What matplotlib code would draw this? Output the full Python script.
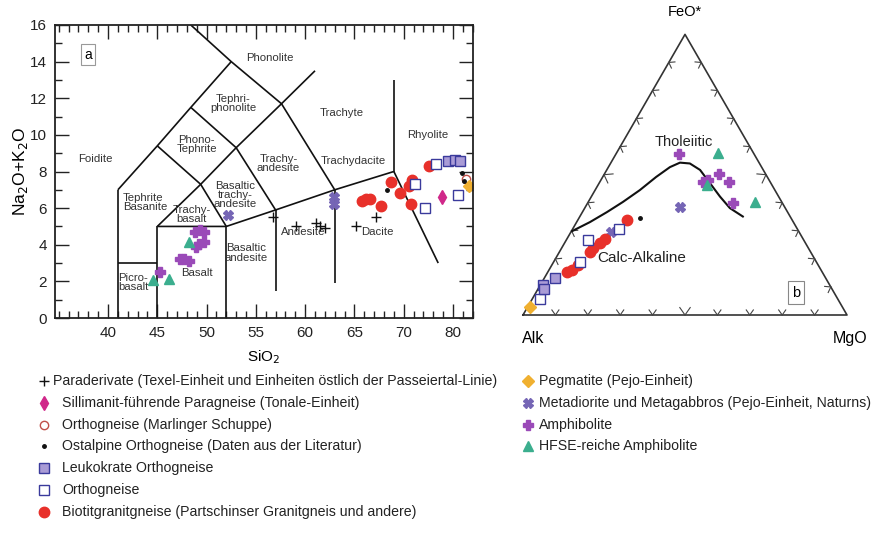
import numpy as np
import matplotlib.pyplot as plt
from matplotlib.ticker import MultipleLocator

plt.rcParams['font.family'] = ['Liberation Sans', 'DejaVu Sans']

# ---------------- TAS diagram data (SiO2, Na2O+K2O) ----------------
para_sio2 = [56.7, 59.1, 61.1, 61.5, 62.0, 65.2, 67.2]
para_alk = [5.5, 5.0, 5.2, 5.0, 4.9, 5.0, 5.5]

sill_sio2 = [73.9]
sill_alk = [6.6]

marl_sio2 = [76.3]
marl_alk = [7.6]

ostalp_sio2 = [68.3, 75.9, 76.1]
ostalp_alk = [7.0, 7.9, 7.5]

leuko_sio2 = [74.5, 75.2, 75.7]
leuko_alk = [8.6, 8.65, 8.6]

ortho_sio2 = [71.1, 72.2, 73.3, 75.5]
ortho_alk = [7.3, 6.0, 8.4, 6.7]

biot_sio2 = [65.8, 66.2, 66.6, 67.7, 68.7, 69.6, 70.5, 70.8, 70.7, 72.6]
biot_alk = [6.4, 6.5, 6.5, 6.1, 7.45, 6.8, 7.2, 7.55, 6.2, 8.3]

peg_sio2 = [76.6]
peg_alk = [7.2]

meta_sio2 = [52.2, 62.9, 62.9]
meta_alk = [5.6, 6.6, 6.25]

amph_sio2 = [48.8, 49.3, 49.7, 48.9, 49.2, 49.7, 47.3, 47.7, 48.2, 45.3]
amph_alk = [4.7, 4.8, 4.7, 3.9, 4.05, 4.15, 3.2, 3.2, 3.1, 2.5]

hfse_sio2 = [48.2, 44.6, 46.2]
hfse_alk = [4.15, 2.1, 2.15]

# TAS field boundaries (Le Bas et al.)
tas_lines = [
    [(41, 0), (41, 7)],
    [(41, 3), (45, 3)],
    [(45, 0), (45, 5)],
    [(41, 7), (45, 9.4), (48.4, 11.5), (52.5, 14), (48.4, 16)],
    [(45, 9.4), (49.4, 7.3), (52, 5)],
    [(48.4, 11.5), (53, 9.3), (57, 5.9)],
    [(52.5, 14), (57.6, 11.7), (63, 7)],
    [(57.6, 11.7), (61, 13.5)],
    [(45, 5), (52, 5), (57, 5.9), (63, 7), (69, 8)],
    [(45, 5), (49.4, 7.3), (53, 9.3), (57.6, 11.7)],
    [(52, 0), (52, 5)],
    [(57, 1.5), (57, 5.9)],
    [(63, 1.9), (63, 7)],
    [(69, 8), (69, 13)],
    [(69, 8), (73.5, 3.0)],
]

tas_labels = [
    ('Phonolite', 56.4, 14.2, 'center'),
    ('Tephri-\nphonolite', 52.7, 11.7, 'center'),
    ('Phono-\nTephrite', 49.0, 9.5, 'center'),
    ('Foidite', 38.7, 8.7, 'center'),
    ('Tephrite\nBasanite', 41.5, 6.3, 'left'),
    ('Trachy-\nbasalt', 48.5, 5.65, 'center'),
    ('Basaltic\ntrachy-\nandesite', 52.9, 6.7, 'center'),
    ('Basaltic\nandesite', 54.0, 3.55, 'center'),
    ('Basalt', 49.0, 2.45, 'center'),
    ('Picro-\nbasalt', 41.0, 1.95, 'left'),
    ('Trachy-\nandesite', 57.3, 8.45, 'center'),
    ('Trachyte', 63.7, 11.2, 'center'),
    ('Trachydacite', 64.9, 8.6, 'center'),
    ('Rhyolite', 72.4, 10.0, 'center'),
    ('Andesite', 59.8, 4.7, 'center'),
    ('Dacite', 67.3, 4.7, 'center'),
]

x_ticks = [40, 45, 50, 55, 60, 65, 70, 75]
x_ticklabels = ['40', '45', '50', '55', '60', '65', '70', '80']

# ---------------- AFM diagram data (FeO*, MgO in %, Alk = rest) ----------------
amph_F = [57.4, 47.5, 48.1, 50.3, 47.5, 39.8]
amph_M = [19.3, 31.9, 33.1, 35.2, 39.9, 44.8]
hfse_F = [57.6, 46.3, 40.4]
hfse_M = [31.5, 33.6, 51.4]
meta_F = [38.6, 29.6]
meta_M = [29.2, 12.4]
biot_F = [33.9, 27.0, 25.8, 23.8, 22.6, 17.8, 16.0, 15.4]
biot_M = [15.1, 11.8, 10.9, 9.8, 9.4, 8.2, 7.0, 6.0]
ortho_F = [30.7, 26.7, 19.0, 5.7]
ortho_M = [14.3, 6.8, 8.1, 2.4]
leuko_F = [13.1, 10.7, 9.2]
leuko_M = [3.3, 0.8, 2.0]
peg_F = [3.0]
peg_M = [0.6]
ostalp_F = [34.5]
ostalp_M = [18.9]

# Tholeiitic / calc-alkaline boundary (Irvine & Baragar)
curve_F = [29.9, 33.1, 36.7, 40.3, 44.5, 49.2, 52.7, 54.3, 54.0, 51.7, 47.0, 42.2, 38.1, 35.1]
curve_M = [0.2, 4.1, 7.6, 10.7, 13.8, 16.5, 19.0, 21.3, 24.5, 28.8, 34.2, 39.7, 44.8, 50.3]

# ---------------- styles ----------------
C_RED = '#e8302a'
C_AMPH = '#9a4ab8'
C_HFSE = '#3bae8e'
C_META = '#7565b5'
C_SQ = '#3a3a9c'
C_LEUKO = '#a99bd6'
C_PEG = '#f0b030'
C_SILL = '#d0288a'
C_MARL = '#c0504a'

styles = {
    'para': dict(marker='+', color='#111111', ms=6.5, mew=1.0, ls='none'),
    'sill': dict(marker='d', color=C_SILL, ms=7.5, mec=C_SILL, ls='none'),
    'marl': dict(marker='o', mfc='white', mec=C_MARL, ms=6, mew=1.0, ls='none'),
    'ostalp': dict(marker='o', color='#111111', ms=2.5, ls='none'),
    'leuko': dict(marker='s', mfc=C_LEUKO, mec=C_SQ, ms=6.5, mew=1.0, ls='none'),
    'ortho': dict(marker='s', mfc='white', mec=C_SQ, ms=6.5, mew=1.0, ls='none'),
    'biot': dict(marker='o', color=C_RED, ms=7.5, ls='none'),
    'peg': dict(marker='D', color=C_PEG, ms=6, ls='none'),
    'meta': dict(marker='X', color=C_META, ms=7, mec=C_META, ls='none'),
    'amph': dict(marker='P', color=C_AMPH, ms=7.5, mec=C_AMPH, ls='none'),
    'hfse': dict(marker='^', color=C_HFSE, ms=7, ls='none'),
}

fig = plt.figure(figsize=(8.75, 5.48), dpi=100)

# ---------------- TAS axes ----------------
ax = fig.add_axes([55 / 875, 1 - 318 / 548, 418 / 875, 293 / 548])
for seg in tas_lines:
    xs, ys = zip(*seg)
    ax.plot(xs, ys, color='#111111', lw=1.2, solid_capstyle='butt')
for txt, x, y, ha in tas_labels:
    ax.text(x, y, txt, ha=ha, va='center', fontsize=8.2, color='#333333',
            linespacing=0.88)
ax.text(37.97, 14.37, 'a', ha='center', va='center', fontsize=10,
        bbox=dict(boxstyle='square,pad=0.25', fc='white', ec='#999999', lw=0.8))

ax.plot(para_sio2, para_alk, **styles['para'])
ax.plot(amph_sio2, amph_alk, **styles['amph'])
ax.plot(hfse_sio2, hfse_alk, **styles['hfse'])
ax.plot(meta_sio2, meta_alk, **styles['meta'])
ax.plot(biot_sio2, biot_alk, **styles['biot'])
ax.plot(ortho_sio2, ortho_alk, **styles['ortho'])
ax.plot(leuko_sio2, leuko_alk, **styles['leuko'])
ax.plot(sill_sio2, sill_alk, **styles['sill'])
ax.plot(marl_sio2, marl_alk, **styles['marl'])
ax.plot(peg_sio2, peg_alk, **styles['peg'])
ax.plot(ostalp_sio2, ostalp_alk, **styles['ostalp'])

ax.set_xlim(34.62, 77.03)
ax.set_ylim(0, 16)
ax.set_xticks(x_ticks)
ax.set_xticklabels(x_ticklabels)
ax.xaxis.set_minor_locator(MultipleLocator(1))
ax.set_yticks(range(0, 17, 2))
ax.yaxis.set_minor_locator(MultipleLocator(1))
ax.tick_params(which='both', direction='in', top=True, right=True,
               labelsize=11, width=1.0, colors='#222222')
ax.tick_params(which='major', length=10, pad=6)
ax.tick_params(which='minor', length=5)
for sp in ax.spines.values():
    sp.set_linewidth(1.3)
    sp.set_color('#222222')
ax.set_xlabel('SiO$_2$', fontsize=11, labelpad=6)
ax.set_ylabel('Na$_2$O+K$_2$O', fontsize=12.5, labelpad=0)

# ---------------- AFM ternary axes ----------------
H = np.sqrt(3) / 2
tax = fig.add_axes([523 / 875, 1 - 315 / 548, 324 / 875, 280.6 / 548])
tax.set_xlim(0, 1)
tax.set_ylim(0, H)
tax.axis('off')


def tern(F, M):
    F = np.asarray(F) / 100.0
    M = np.asarray(M) / 100.0
    return M + F / 2, F * H


corners = np.array([[0, 0], [1, 0], [0.5, H], [0, 0]])
tax.plot(corners[:, 0], corners[:, 1], color='#333333', lw=1.2, clip_on=False)

# chevron ticks on each edge, opening towards the interior
edges = [((0, 0), (1, 0)), ((1, 0), (0.5, H)), ((0.5, H), (0, 0))]
for (x0, y0), (x1, y1) in edges:
    dx, dy = x1 - x0, y1 - y0
    L = np.hypot(dx, dy)
    tx, ty = dx / L, dy / L
    nx, ny = -ty, tx
    for k in range(1, 10):
        px, py = x0 + dx * k / 10, y0 + dy * k / 10
        s = 0.028 if k == 5 else 0.019
        a = np.radians(35)
        for sgn in (-1, 1):
            ex = px + s * (np.cos(a) * nx + sgn * np.sin(a) * tx)
            ey = py + s * (np.cos(a) * ny + sgn * np.sin(a) * ty)
            tax.plot([px, ex], [py, ey], color='#444444', lw=0.8, clip_on=False)

cx, cy = tern(curve_F, curve_M)
tax.plot(cx, cy, color='#111111', lw=1.5)

for F, M, key in [(amph_F, amph_M, 'amph'), (hfse_F, hfse_M, 'hfse'),
                  (meta_F, meta_M, 'meta'), (biot_F, biot_M, 'biot'),
                  (ortho_F, ortho_M, 'ortho'), (leuko_F, leuko_M, 'leuko'),
                  (peg_F, peg_M, 'peg'), (ostalp_F, ostalp_M, 'ostalp')]:
    x, y = tern(F, M)
    tax.plot(x, y, clip_on=False, **styles[key])

tax.text(0.4948, 0.5349, 'Tholeiitic', ha='center', va='center', fontsize=10.5, color='#222222')
tax.text(0.3663, 0.175, 'Calc-Alkaline', ha='center', va='center', fontsize=11, color='#222222')
tax.text(0.8426, 0.0694, 'b', ha='center', va='center', fontsize=10.5,
         bbox=dict(boxstyle='square,pad=0.3', fc='white', ec='#888888', lw=0.8))
tax.text(0.5, H + 0.07, 'FeO*', ha='center', va='center', fontsize=10.5, clip_on=False)
tax.text(-0.003, -0.071, 'Alk', ha='left', va='center', fontsize=11.5, clip_on=False)
tax.text(0.957, -0.071, 'MgO', ha='left', va='center', fontsize=11.5, clip_on=False)

# ---------------- legend ----------------
lax = fig.add_axes([0, 0, 1, 1])
lax.set_xlim(0, 875)
lax.set_ylim(548, 0)
lax.axis('off')

left_entries = [
    ('para', 'Paraderivate (Texel-Einheit und Einheiten östlich der Passeiertal-Linie)'),
    ('sill', 'Sillimanit-führende Paragneise (Tonale-Einheit)'),
    ('marl', 'Orthogneise (Marlinger Schuppe)'),
    ('ostalp', 'Ostalpine Orthogneise (Daten aus der Literatur)'),
    ('leuko', 'Leukokrate Orthogneise'),
    ('ortho', 'Orthogneise'),
    ('biot', 'Biotitgranitgneise (Partschinser Granitgneis und andere)'),
]
right_entries = [
    ('peg', 'Pegmatite (Pejo-Einheit)'),
    ('meta', 'Metadiorite und Metagabbros (Pejo-Einheit, Naturns)'),
    ('amph', 'Amphibolite'),
    ('hfse', 'HFSE-reiche Amphibolite'),
]
rows = [381, 403, 425, 446, 468, 490, 512]
for i, (key, label) in enumerate(left_entries):
    lax.plot([44], [rows[i]], clip_on=False, **styles[key])
    lax.text(62 if i else 53, rows[i], label, ha='left', va='center',
             fontsize=10.2, color='#222222')
for i, (key, label) in enumerate(right_entries):
    lax.plot([528], [rows[i]], clip_on=False, **styles[key])
    lax.text(539, rows[i], label, ha='left', va='center', fontsize=10.2, color='#222222')

fig.savefig('out.png', dpi=100)
